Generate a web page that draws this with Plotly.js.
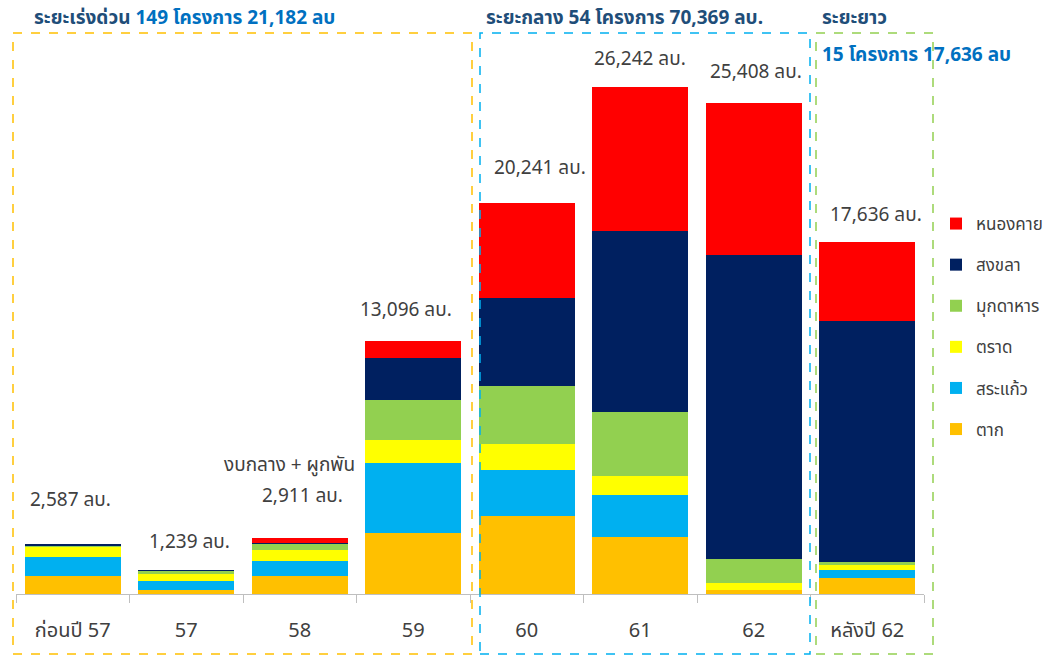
<!DOCTYPE html>
<html>
<head>
<meta charset="utf-8">
<script src="https://cdn.plot.ly/plotly-3.0.1.min.js"></script>
<style>
  html, body { margin: 0; padding: 0; background: #ffffff; }
  #chart { width: 1048px; height: 656px; }
</style>
</head>
<body>
<div id="chart"></div>
<script>
// ---- data ----
const categories = ['ก่อนปี 57', '57', '58', '59', '60', '61', '62', 'หลังปี 62'];
const seriesNames = ['ตาก', 'สระแก้ว', 'ตราด', 'มุกดาหาร', 'สงขลา', 'หนองคาย'];
const tak       = [932, 223, 930, 3143, 4054, 2968, 207, 844];
const sakaeo    = [1000, 466, 770, 3640, 2366, 2158, 0, 414];
const trat      = [483, 345, 554, 1191, 1346, 1001, 345, 228];
const mukdahan  = [69, 172, 347, 2087, 2988, 3293, 1243, 155];
const songkhla  = [104, 35, 52, 2175, 4588, 9352, 15757, 12495];
const nongkhai  = [0, 0, 259, 865, 4899, 7470, 7855, 4075];
const totalLabels = [2587, 1239, 2911, 13096, 20241, 26242, 25408, 17636];
const phaseTitles = [
  ['ระยะเร่งด่วน', ' 149 โครงการ 21,182 ลบ'],
  ['ระยะกลาง 54 โครงการ 70,369 ลบ.', ''],
  ['ระยะยาว', ''],
  ['', '15 โครงการ 17,636 ลบ']
];
const noteLabel = 'งบกลาง + ผูกพัน';

// ---- styles ----
const colors = ['#FFC000', '#00B0F0', '#FFFF00', '#92D050', '#002060', '#FF0000'];
const FONT = "Tahoma, 'Leelawadee UI', 'Noto Sans Thai', 'Noto Sans', 'DejaVu Sans', sans-serif";
const TXT = '#404040';

const seriesValues = [tak, sakaeo, trat, mukdahan, songkhla, nongkhai];
const catIdx = categories.map((c, j) => j);
const traces = seriesValues.map((vals, i) => ({
  type: 'bar',
  name: seriesNames[i],
  x: catIdx,
  y: vals,
  legendgroup: 'g' + i,
  legendrank: (seriesValues.length - i) * 100,
  marker: { color: colors[i], line: { width: 0 } },
  hoverinfo: 'y+name'
}));

const stackTops = categories.map((c, j) => seriesValues.reduce((s, v) => s + v[j], 0));

// label offsets in pixels (position only)
const labelDY = [44, 28, 41, 30, 35, 28, 31, 27];
const labelDX = [-2, 3, 3, -7, 13, 0, 2, 9];

const annotations = categories.map((c, j) => ({
  x: j, y: stackTops[j], xref: 'x', yref: 'y',
  text: totalLabels[j].toLocaleString('en-US') + ' ลบ.',
  showarrow: false, xanchor: 'center', yanchor: 'middle',
  yshift: labelDY[j], xshift: labelDX[j],
  font: { family: FONT, size: 19, color: TXT }
}));
annotations.push({
  x: 2, y: stackTops[2], xref: 'x', yref: 'y',
  text: noteLabel, showarrow: false, xanchor: 'center', yanchor: 'middle',
  yshift: 72, xshift: -10,
  font: { family: FONT, size: 19, color: TXT }
});

// phase titles (pixel -> paper conversion)
const L = 16, R = 124, T = 60, B = 62, W = 1048, H = 656;
const pw = W - L - R, ph = H - T - B;
const px = v => (v - L) / pw;
const py = v => (H - B - v) / ph;

const titlePos = [[32, 18], [484, 19], [820, 19], [820, 55]];
phaseTitles.forEach((t, i) => {
  const txt = (t[0] ? '<span style="color:#1F4E79">' + t[0] + '</span>' : '') +
              (t[1] ? '<span style="color:#0070C0">' + t[1] + '</span>' : '');
  annotations.push({
    x: px(titlePos[i][0]), y: py(titlePos[i][1]), xref: 'paper', yref: 'paper',
    text: txt, showarrow: false, xanchor: 'left', yanchor: 'middle',
    font: { family: FONT, size: 19, color: '#0070C0', weight: 'bold' }
  });
});

const boxes = [
  { x0: 13, x1: 472, c: '#FFC000' },
  { x0: 480, x1: 810, c: '#00B0F0' },
  { x0: 816, x1: 933, c: '#92D050' }
];
const shapes = boxes.map(b => ({
  type: 'rect', xref: 'paper', yref: 'paper',
  x0: px(b.x0), x1: px(b.x1), y0: py(654), y1: py(33),
  line: { color: b.c, width: 1.5, dash: 'dash' }, fillcolor: 'rgba(0,0,0,0)'
}));

const layout = {
  width: W, height: H,
  margin: { l: L, r: R, t: T, b: B, pad: 0, autoexpand: false },
  paper_bgcolor: '#ffffff', plot_bgcolor: '#ffffff',
  barmode: 'stack', bargap: 0.154,
  font: { family: FONT, color: TXT },
  showlegend: true,
  legend: {
    x: px(936), y: py(206), xanchor: 'left', yanchor: 'top',
    traceorder: 'grouped', tracegroupgap: 16,
    font: { family: FONT, size: 17, color: TXT },
    bgcolor: 'rgba(0,0,0,0)'
  },
  xaxis: {
    type: 'linear', range: [-0.5, categories.length - 0.5], autorange: false,
    tickmode: 'array', tickvals: catIdx, ticktext: categories,
    showline: true, linecolor: '#BFBFBF', linewidth: 1,
    ticks: '',
    tickfont: { family: FONT, size: 20, color: TXT },
    ticklabelstandoff: 18,
    showgrid: false, zeroline: false, fixedrange: true
  },
  xaxis2: {
    overlaying: 'x', anchor: 'y', side: 'bottom',
    type: 'linear', range: [-0.5, categories.length - 0.5], autorange: false,
    tickmode: 'array', tickvals: catIdx.concat([categories.length]).map(v => v - 0.5),
    showticklabels: false, ticks: 'outside', ticklen: 8, tickcolor: '#BFBFBF', tickwidth: 1,
    showline: false, showgrid: false, zeroline: false, fixedrange: true
  },
  yaxis: {
    range: [0, 27651], visible: false, showgrid: false, zeroline: false, fixedrange: true
  },
  annotations: annotations,
  shapes: shapes
};

// invisible helper trace to activate xaxis2 (tick marks at category boundaries)
traces.push({ type: 'scatter', x: [0], y: [0], xaxis: 'x2', yaxis: 'y', mode: 'markers',
  marker: { opacity: 0 }, showlegend: false, hoverinfo: 'skip' });

Plotly.newPlot('chart', traces, layout, { displayModeBar: false, staticPlot: true });
</script>
</body>
</html>
